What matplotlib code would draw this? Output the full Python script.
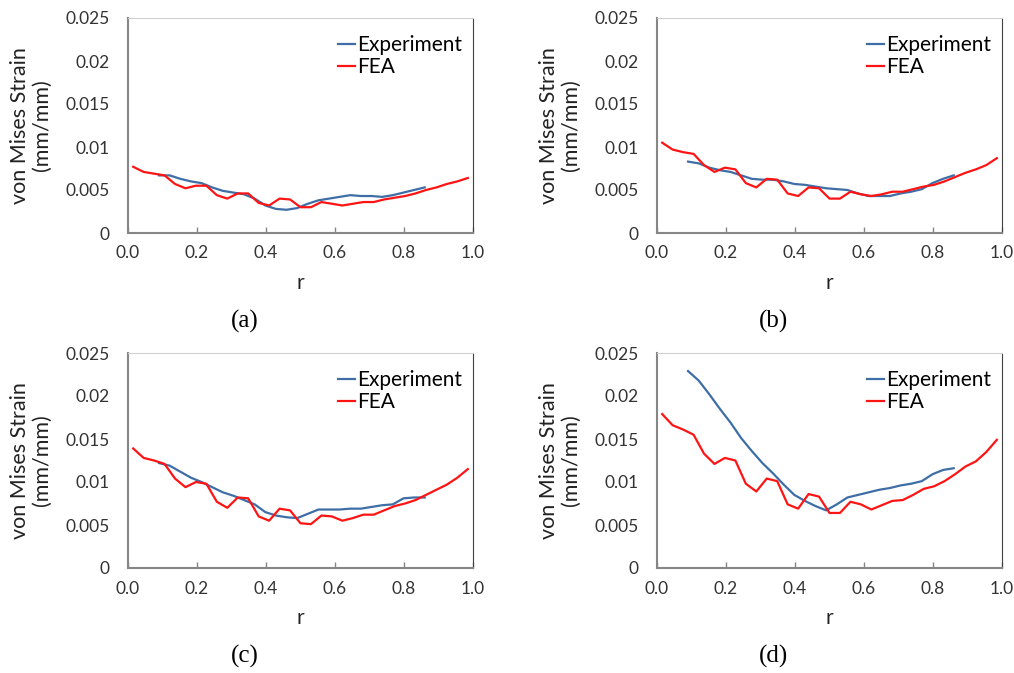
import numpy as np
import matplotlib
matplotlib.use("Agg")
import matplotlib.pyplot as plt

# radial positions (element centroids for FEA, measurement points for experiment)
r_fea = np.linspace(0.015, 0.985, 33)
r_exp = np.linspace(0.09, 0.86, 26)

# panel (a)
fea_a = [0.0077, 0.0071, 0.0069, 0.0067, 0.0057, 0.0052, 0.0055, 0.0055, 0.0044, 0.0040,
         0.0046, 0.0046, 0.0035, 0.0032, 0.0040, 0.0039, 0.0030, 0.0030, 0.0036, 0.0034,
         0.0032, 0.0034, 0.0036, 0.0036, 0.0039, 0.0041, 0.0043, 0.0046, 0.0050, 0.0053,
         0.0057, 0.0060, 0.0064]
exp_a = [0.0067, 0.0067, 0.0063, 0.0060, 0.0058, 0.0053, 0.0049, 0.0047, 0.0045, 0.0040,
         0.0032, 0.0028, 0.0027, 0.0029, 0.0034, 0.0038, 0.0040, 0.0042, 0.0044, 0.0043,
         0.0043, 0.0042, 0.0044, 0.0047, 0.0050, 0.0053]

# panel (b)
fea_b = [0.0105, 0.0097, 0.0094, 0.0092, 0.0079, 0.0071, 0.0076, 0.0074, 0.0058, 0.0053,
         0.0063, 0.0062, 0.0046, 0.0043, 0.0053, 0.0052, 0.0040, 0.0040, 0.0048, 0.0045,
         0.0043, 0.0045, 0.0048, 0.0048, 0.0051, 0.0054, 0.0056, 0.0060, 0.0065, 0.0070,
         0.0074, 0.0079, 0.0087]
exp_b = [0.0083, 0.0081, 0.0076, 0.0073, 0.0071, 0.0067, 0.0063, 0.0062, 0.0062, 0.0060,
         0.0057, 0.0056, 0.0054, 0.0052, 0.0051, 0.0050, 0.0046, 0.0043, 0.0043, 0.0043,
         0.0046, 0.0048, 0.0051, 0.0058, 0.0063, 0.0067]

# panel (c)
fea_c = [0.0139, 0.0128, 0.0125, 0.0121, 0.0104, 0.0094, 0.0100, 0.0098, 0.0077, 0.0070,
         0.0082, 0.0081, 0.0060, 0.0055, 0.0069, 0.0067, 0.0052, 0.0051, 0.0061, 0.0060,
         0.0055, 0.0058, 0.0062, 0.0062, 0.0067, 0.0072, 0.0075, 0.0079, 0.0085, 0.0091,
         0.0097, 0.0105, 0.0115]
exp_c = [0.0122, 0.0119, 0.0112, 0.0105, 0.0100, 0.0094, 0.0088, 0.0084, 0.0079, 0.0074,
         0.0065, 0.0061, 0.0059, 0.0058, 0.0063, 0.0068, 0.0068, 0.0068, 0.0069, 0.0069,
         0.0071, 0.0073, 0.0074, 0.0081, 0.0082, 0.0082]

# panel (d)
fea_d = [0.0179, 0.0166, 0.0161, 0.0155, 0.0133, 0.0121, 0.0128, 0.0125, 0.0098, 0.0089,
         0.0104, 0.0101, 0.0074, 0.0069, 0.0086, 0.0083, 0.0064, 0.0064, 0.0077, 0.0074,
         0.0068, 0.0073, 0.0078, 0.0079, 0.0085, 0.0092, 0.0095, 0.0101, 0.0109, 0.0118,
         0.0124, 0.0135, 0.0149]
exp_d = [0.0229, 0.0218, 0.0202, 0.0185, 0.0169, 0.0151, 0.0136, 0.0122, 0.0110, 0.0097,
         0.0085, 0.0078, 0.0072, 0.0067, 0.0074, 0.0082, 0.0085, 0.0088, 0.0091, 0.0093,
         0.0096, 0.0098, 0.0101, 0.0109, 0.0114, 0.0116]

panels = [("(a)", exp_a, fea_a), ("(b)", exp_b, fea_b),
          ("(c)", exp_c, fea_c), ("(d)", exp_d, fea_d)]

x_ticks = [0.0, 0.2, 0.4, 0.6, 0.8, 1.0]
y_ticks = [0, 0.005, 0.01, 0.015, 0.02, 0.025]
y_tick_labels = ["0", "0.005", "0.01", "0.015", "0.02", "0.025"]

plt.rcParams['font.family'] = ['Lato', 'DejaVu Sans']

W, H = 1014, 673
fig = plt.figure(figsize=(W / 100, H / 100), dpi=100)

# axes boxes in pixels: left, top
boxes = [(128, 18), (657, 18), (128, 353), (657, 353)]
aw, ah = 345, 215

for (cap, exp, fea), (lx, ty) in zip(panels, boxes):
    ax = fig.add_axes([lx / W, 1 - (ty + ah) / H, aw / W, ah / H])
    ax.plot(r_exp, exp, color='#3f6ea6', lw=1.6, label="Experiment")
    ax.plot(r_fea, fea, color='#ff1414', lw=1.6, label="FEA")
    ax.set_xlim(0, 1)
    ax.set_ylim(0, 0.025)
    ax.set_xticks(x_ticks)
    ax.set_xticklabels([f"{t:.1f}" for t in x_ticks])
    ax.set_yticks(y_ticks)
    ax.set_yticklabels(y_tick_labels)
    ax.tick_params(axis='x', direction='in', length=4, color='#868686', width=1,
                   labelsize=12.5, pad=9, labelcolor='#333333')
    ax.tick_params(axis='y', length=0, labelsize=12.5, pad=13, labelcolor='#333333')
    for s in ['left', 'bottom']:
        ax.spines[s].set_color('#868686')
        ax.spines[s].set_linewidth(1.5)
    ax.spines['top'].set_color('#d0d0d0')
    ax.spines['top'].set_linewidth(0.8)
    ax.spines['right'].set_color('#404040')
    ax.spines['right'].set_linewidth(0.8)
    ax.set_xlabel("r", fontsize=15, labelpad=8, color='#222222')
    ax.set_ylabel("von Mises Strain\n(mm/mm)", fontsize=15.5, labelpad=10,
                  color='#222222', linespacing=1.1)
    ax.legend(loc='upper left', bbox_to_anchor=(0.585, 0.96), frameon=False,
              fontsize=15, handlelength=0.8, handletextpad=0.1,
              labelspacing=0.1, borderaxespad=0)
    fig.text((lx + aw / 2 - 56) / W, 1 - (ty + 303) / H, cap,
             family='Liberation Serif', fontsize=18, ha='center', va='center')

fig.savefig("out.png", dpi=100)
